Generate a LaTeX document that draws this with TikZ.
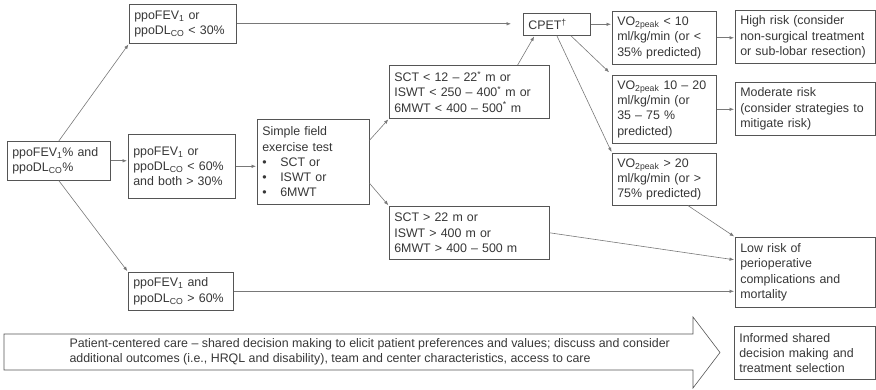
\documentclass[tikz,border=0pt]{standalone}
\usepackage{fontspec}
\setmainfont{Liberation Sans}
\usetikzlibrary{arrows.meta,positioning}
\definecolor{boxline}{RGB}{85,85,85}
\definecolor{linkline}{RGB}{120,120,120}
\definecolor{textgray}{RGB}{55,55,55}

\begin{document}
\begin{tikzpicture}[
    x=1pt, y=-1pt,
    every node/.style={font=\fontsize{12.4}{15.2}\selectfont, text=textgray},
    box/.style={rectangle, draw=boxline, line width=0.6pt, inner xsep=5pt, inner ysep=2pt, align=left, anchor=north west, fill=white},
    arrow/.style={-{Latex[length=4.5pt,width=3.5pt]}, linkline, line width=0.6pt, shorten >=1pt}
]
\useasboundingbox (0,0) rectangle (876,390);

% Nodos
\node[box, text width=93pt, minimum height=39pt] (start) at (7,141) {ppoFEV\textsubscript{1}\% and\\ppoDL\textsubscript{CO}\%};
\node[box, text width=97pt, minimum height=39pt] (lowfn) at (129,4) {ppoFEV\textsubscript{1} or\\ppoDL\textsubscript{CO} < 30\%};
\node[box, text width=97pt, minimum height=64pt] (midfn) at (128,134) {ppoFEV\textsubscript{1} or\\ppoDL\textsubscript{CO} < 60\%\\and both > 30\%};
\node[box, text width=95pt, minimum height=38pt] (goodfn) at (128,272) {ppoFEV\textsubscript{1} and\\ppoDL\textsubscript{CO} > 60\%};
\node[box, text width=102pt, minimum height=85pt] (field) at (257,119) {Simple field\\exercise test\\\makebox[18pt][l]{\textbullet}SCT or\\\makebox[18pt][l]{\textbullet}ISWT or\\\makebox[18pt][l]{\textbullet}6MWT};
\node[box, text width=150pt, minimum height=53pt] (shortwalk) at (389,65) {SCT < 12 – 22\textsuperscript{*} m or\\ISWT < 250 – 400\textsuperscript{*} m or\\6MWT < 400 – 500\textsuperscript{*} m};
\node[box, text width=150pt, minimum height=53pt] (longwalk) at (389,206) {SCT > 22 m or\\ISWT > 400 m or\\6MWT > 400 – 500 m};
\node[box, text width=57pt, minimum height=22pt] (cpet) at (523,13) {CPET\textsuperscript{†}};
\node[box, text width=94pt, minimum height=53pt] (vlow) at (612,11) {VO\textsubscript{2peak} < 10\\ml/kg/min (or <\\35\% predicted)};
\node[box, text width=94pt, minimum height=68pt] (vmid) at (612,75) {VO\textsubscript{2peak} 10 – 20\\ml/kg/min (or\\35 – 75 \%\\predicted)};
\node[box, text width=94pt, minimum height=52pt] (vhigh) at (612,153) {VO\textsubscript{2peak} > 20\\ml/kg/min (or >\\75\% predicted)};
\node[box, text width=130pt, minimum height=53pt] (highrisk) at (735,10) {High risk (consider\\non-surgical treatment\\or sub-lobar resection)};
\node[box, text width=130pt, minimum height=53pt] (modrisk) at (735,82) {Moderate risk\\(consider strategies to\\mitigate risk)};
\node[box, text width=130pt, minimum height=70pt] (lowrisk) at (735,237) {Low risk of\\perioperative\\complications and\\mortality};
\node[box, text width=131pt, minimum height=53pt] (informed) at (734,326) {Informed shared\\decision making and\\treatment selection};

% Flecha grande
\draw[boxline, line width=0.6pt] (4,334) -- (693,334) -- (693,317) -- (720,352.5) -- (693,388) -- (693,370) -- (4,370) -- cycle;
\node[align=left, anchor=west] (care) at (66,352) {Patient-centered care – shared decision making to elicit patient preferences and values; discuss and consider\\additional outcomes (i.e., HRQL and disability), team and center characteristics, access to care};

% Flechas
\draw[arrow] (start.north) -- (lowfn.south west);
\draw[arrow] (start.east) -- (start.east -| midfn.west);
\draw[arrow] (start.south) -- (goodfn.north west);
\draw[arrow] (midfn.east) -- (midfn.east -| field.west);
\draw[arrow, shorten >=12pt] (lowfn.east) -- (lowfn.east -| cpet.west);
\draw[arrow] (field.21) -- (shortwalk.south west);
\draw[arrow] (field.-21) -- (longwalk.north west);
\draw[arrow] (shortwalk.29) -- (cpet.207);
\draw[arrow] (cpet.east) -- (cpet.east -| vlow.west);
\draw[arrow, shorten >=4pt] (cpet.-39) -- (vmid.north west);
\draw[arrow] (cpet.south) -- (vhigh.north west);
\draw[arrow] (vlow.east) -- (vlow.east -| highrisk.west);
\draw[arrow] (vmid.east) -- (vmid.east -| modrisk.west);
\draw[arrow] (vhigh.-48) -- (lowrisk.north west);
\draw[arrow] (longwalk.east) -- (lowrisk.170);
\draw[arrow] (goodfn.east) -- (goodfn.east -| lowrisk.west);

\end{tikzpicture}
\end{document}
